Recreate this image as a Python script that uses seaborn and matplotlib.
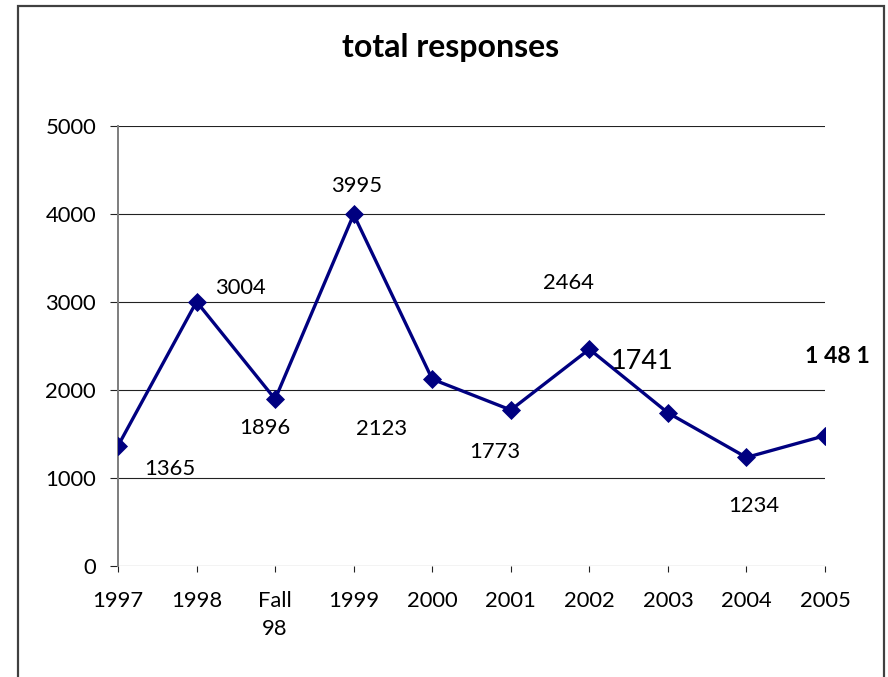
import matplotlib
matplotlib.use("Agg")
import matplotlib.pyplot as plt
from matplotlib.patches import Rectangle
import seaborn as sns
import pandas as pd

# Survey totals by collection period
periods = ["1997", "1998", "Fall\n98", "1999", "2000", "2001", "2002", "2003", "2004", "2005"]
responses = [1365, 3004, 1896, 3995, 2123, 1773, 2464, 1741, 1234, 1481]

# Label placement (offset in points from each marker)
label_dx = [52, 44, -10, 3, -51, -16, -21, -26, 7, 12]
label_dy = [-23, 14, -29, 28, -50, -42, 66, 51, -49, 79]

df = pd.DataFrame({"pos": range(len(periods)), "total": responses})

sns.set_theme(style="white")
plt.rcParams["font.family"] = ["Lato", "DejaVu Sans"]

DPI = 72
fig = plt.figure(figsize=(888 / DPI, 677 / DPI), dpi=DPI)
ax = fig.add_axes([118 / 888, 1 - 566 / 677, (825 - 118) / 888, (566 - 126) / 677])

navy = "#000080"
sns.lineplot(data=df, x="pos", y="total", ax=ax, color=navy, linewidth=3.3,
             marker="D", markersize=13, markeredgecolor=navy, markerfacecolor=navy)

ax.set_xlim(0, len(periods) - 1)
ax.set_ylim(0, 5000)
ax.set_yticks([0, 1000, 2000, 3000, 4000, 5000])
ax.set_xticks(range(len(periods)))
ax.set_xticklabels(periods, linespacing=1.5)
ax.set_xlabel("")
ax.set_ylabel("")

ax.grid(axis="y", color="#222222", linewidth=1.1)
ax.set_axisbelow(True)
for side in ["top", "right", "bottom"]:
    ax.spines[side].set_visible(False)
ax.spines["left"].set_color("#808080")
ax.spines["left"].set_linewidth(2)
ax.spines["left"].set_zorder(1)

TICK_FS = 22
ax.tick_params(axis="y", which="major", left=True, length=8, width=1.1, color="#222222",
               pad=14, labelsize=TICK_FS, labelcolor="black")
ax.tick_params(axis="x", which="major", bottom=True, length=6, width=1.1, color="#222222",
               pad=19, labelsize=TICK_FS, labelcolor="black")

for i, v in enumerate(responses):
    kw = dict(fontsize=TICK_FS, color="black")
    text = str(v)
    if v == 1741:
        kw["fontsize"] = 27
    if v == 1481:
        kw["fontsize"] = 23
        kw["fontweight"] = "bold"
        text = "1 48 1"
    ax.annotate(text, (i, v), xytext=(label_dx[i], label_dy[i]), textcoords="offset points",
                ha="center", va="center", annotation_clip=False, **kw)

fig.text(451 / 888, 1 - 47 / 677, "total responses", ha="center", va="center",
         fontsize=32, fontweight="bold", color="black")

# Outer chart frame
fig.patches.append(Rectangle((17.5 / 888, -0.05), (884 - 17.5) / 888, 1.05 - 6.5 / 677,
                             transform=fig.transFigure, fill=False,
                             edgecolor="#404040", linewidth=2.2))

fig.savefig("out.png", dpi=DPI, facecolor="white")
